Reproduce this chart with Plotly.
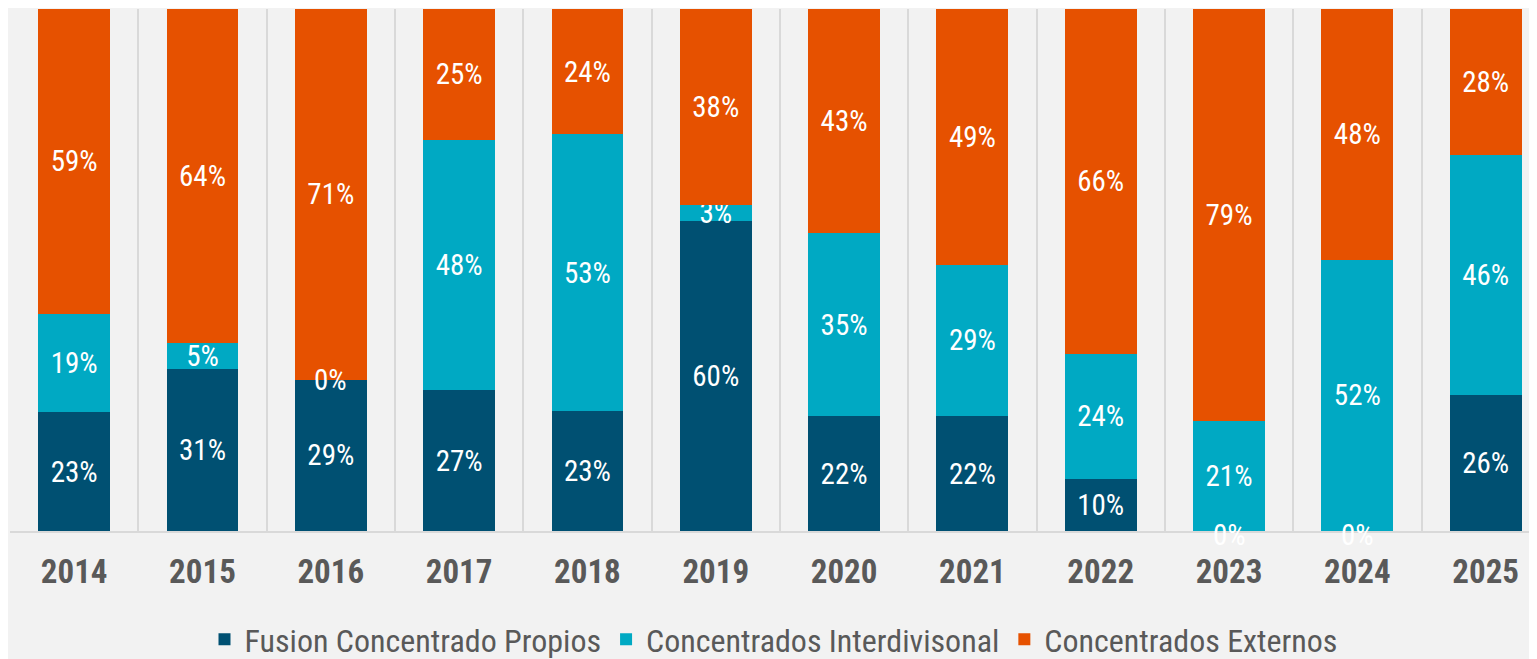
import plotly.graph_objects as go

years = ["2014", "2015", "2016", "2017", "2018", "2019", "2020", "2021", "2022", "2023", "2024", "2025"]
propios = [23, 31, 29, 27, 23, 60, 22, 22, 10, 0, 0, 26]
interdiv = [19, 5, 0, 48, 53, 3, 35, 29, 24, 21, 52, 46]
externos = [59, 64, 71, 25, 24, 38, 43, 49, 66, 79, 48, 28]

series = [
    ("Fusion Concentrado Propios", propios, "#005072"),
    ("Concentrados Interdivisonal", interdiv, "#00a9c3"),
    ("Concentrados Externos", externos, "#e65100"),
]

FONT = "Liberation Sans Narrow, Roboto Condensed, DejaVu Sans Condensed, Roboto, sans-serif"

fig = go.Figure()
for name, vals, color in series:
    fig.add_trace(go.Bar(
        x=years, y=vals, name=name, marker_color=color,
        marker_line_width=0,
        text=[f"{v}%" for v in vals],
        textposition="inside", insidetextanchor="middle", textangle=0,
        insidetextfont=dict(color="white", size=29, family=FONT),
        hoverinfo="skip",
    ))

# labels for zero-height segments (plotly does not draw text for empty bars)
totals = [sum(s[1][i] for s in series) for i in range(len(years))]
for k, (name, vals, color) in enumerate(series):
    for i, v in enumerate(vals):
        if v == 0:
            base = sum(series[j][1][i] for j in range(k)) / totals[i] * 100
            fig.add_annotation(x=i, y=base, xref="x", yref="y", text=f"{v}%", showarrow=False,
                               yanchor="middle", yshift=-4 if base == 0 else 0,
                               font=dict(color="white", size=29, family=FONT))

# the page body adds an 8px offset; figure is sized so it fills the window exactly
fig.update_layout(
    barmode="stack", barnorm="percent", bargap=0.44,
    width=1529, height=651,
    margin=dict(l=2, r=0, t=1, b=128, autoexpand=False),
    paper_bgcolor="#f2f2f2", plot_bgcolor="#f2f2f2",
    uniformtext=dict(minsize=29, mode="show"),
    font=dict(family=FONT, color="#595959"),
    legend=dict(orientation="h", x=0.5, xanchor="center",
                yref="container", y=0.03, yanchor="middle",
                font=dict(size=32, color="#595959", family=FONT),
                traceorder="normal", itemsizing="constant"),
    showlegend=True,
)
fig.update_xaxes(
    type="category", range=[-0.5, 11.4], tickson="boundaries",
    showgrid=True, gridcolor="#d9d9d9", gridwidth=2,
    showline=True, linecolor="#d9d9d9", linewidth=2,
    ticks="", ticklabelstandoff=10, automargin=False,
    tickfont=dict(size=33, color="#595959", family=FONT, weight="bold"),
)
fig.update_yaxes(range=[0, 100], showgrid=False, showticklabels=False, zeroline=False, showline=False)

fig.write_html("out.html")
